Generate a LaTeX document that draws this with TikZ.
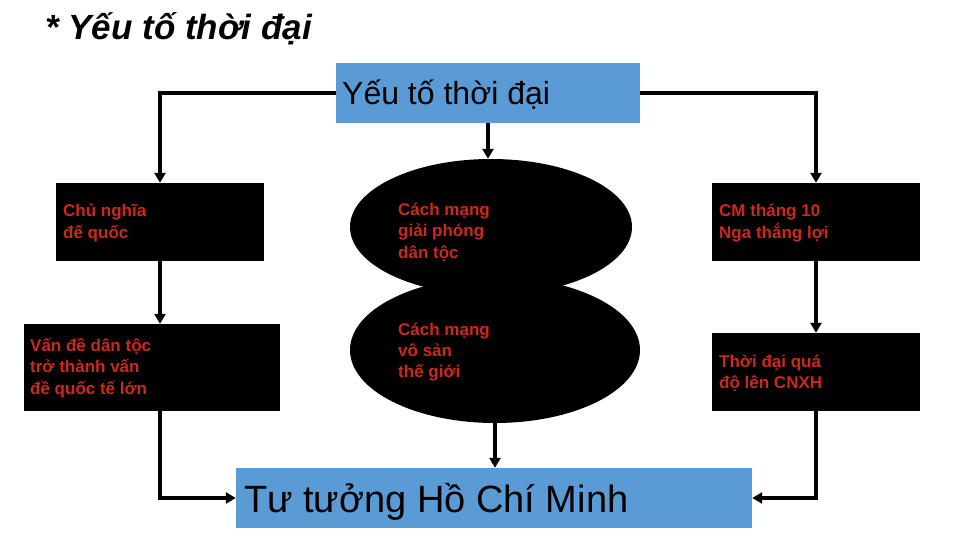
\documentclass[tikz,border=0pt]{standalone}
\usepackage{fontspec}
\setmainfont{Liberation Sans}
\usetikzlibrary{arrows.meta,shapes.geometric}
\definecolor{boxblue}{RGB}{91,155,213}
\definecolor{txtred}{RGB}{205,40,30}
\begin{document}
\begin{tikzpicture}[x=1pt,y=-1pt,
  blkbox/.style={fill=black, draw=none, inner sep=0pt},
  bluebox/.style={fill=boxblue, draw=none, inner sep=0pt},
  ellbox/.style={ellipse, fill=black, draw=none, inner sep=0pt},
  redtxt/.style={text=txtred, font=\bfseries\fontsize{17}{21.3}\selectfont, align=left, anchor=west, inner sep=0pt},
  conn/.style={line width=3.5pt, -{Triangle[length=10pt,width=11pt]}}]
\useasboundingbox (0,0) rectangle (960,540);

% title
\node[anchor=base west, inner sep=0pt, font=\bfseries\itshape\fontsize{35}{40}\selectfont] (title) at (45,40) {* Yếu tố thời đại};

% top box
\node[bluebox, minimum width=304pt, minimum height=60pt] (top) at (488,93) {};
\node[anchor=base west, inner sep=0pt, font=\fontsize{32}{36}\selectfont] (toptxt) at (342,105) {Yếu tố thời đại};

% left boxes
\node[blkbox, minimum width=208pt, minimum height=78pt] (cn) at (160,222) {};
\node[redtxt] (cntxt) at (63,223) {Chủ nghĩa\\đế quốc};
\node[blkbox, minimum width=256pt, minimum height=87pt] (vd) at (152,367.5) {};
\node[redtxt] (vdtxt) at (30,368) {Vấn đề dân tộc\\trở thành vấn\\đề quốc tế lớn};

% right boxes
\node[blkbox, minimum width=208pt, minimum height=78pt] (cm) at (816,222) {};
\node[redtxt] (cmtxt) at (719,223) {CM tháng 10\\Nga thắng lợi};
\node[blkbox, minimum width=208pt, minimum height=78pt] (td) at (816,372) {};
\node[redtxt] (tdtxt) at (719,373) {Thời đại quá\\độ lên CNXH};

% ellipses
\node[ellbox, minimum width=282pt, minimum height=136pt] (ell1) at (491,227) {};
\node[ellbox, minimum width=290pt, minimum height=146pt] (ell2) at (495,350) {};
\node[redtxt] (e1txt) at (398,232) {Cách mạng\\giải phóng\\dân tộc};
\node[redtxt] (e2txt) at (398,352) {Cách mạng\\vô sản\\thế giới};

% bottom box
\node[bluebox, minimum width=516pt, minimum height=60pt] (hcm) at (494,498) {};
\node[anchor=base west, inner sep=0pt, font=\fontsize{38}{42}\selectfont] (hcmtxt) at (244,512) {Tư tưởng Hồ Chí Minh};

% connectors
\draw[conn] (top.west) -| (cn.north);
\draw[conn] (top.east) -| (cm.north);
\draw[conn] (top.south) -- (top.south |- ell1.north);
\draw[conn] (cn.south) -- (cn.south |- vd.north);
\draw[conn] (cn.south |- vd.south) |- (hcm.west);
\draw[conn] (cm.south) -- (td.north);
\draw[conn] (td.south) |- (hcm.east);
\draw[conn] (ell2.south) -- (ell2.south |- hcm.north);
\end{tikzpicture}
\end{document}
